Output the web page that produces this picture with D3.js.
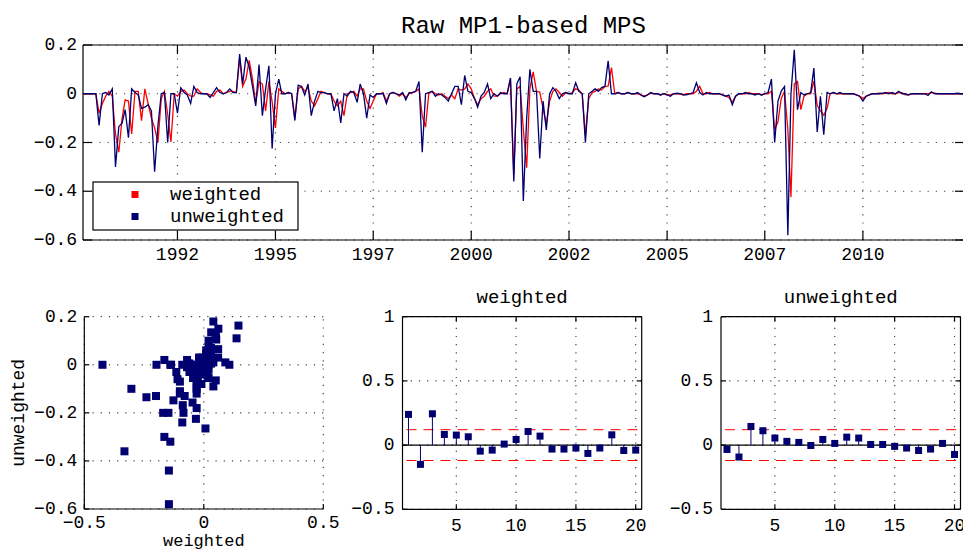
<!DOCTYPE html>
<html>
<head>
<meta charset="utf-8">
<script src="https://cdn.jsdelivr.net/npm/d3@7"></script>
<style>
  body { margin: 0; background: #fff; }
  svg text { font-family: "Liberation Mono", "DejaVu Sans Mono", monospace; fill: #000; }
</style>
</head>
<body>
<div id="chart"></div>
<script>
// Monthly series, Feb 1990 .. Aug 2012 (one row per year)
const weighted = [
  0, 0, 0, 0, 0, -0.08, -0.04, -0.01, 0.01, -0.01, -0.165,
  -0.24, -0.10, -0.025, -0.03, -0.165, 0.01, 0.01, -0.11, 0.02, -0.04, -0.10, -0.14,
  -0.20, -0.02, 0.01, -0.085, -0.198, 0, -0.01, 0.01, 0.015, 0, -0.01, -0.01,
  0.02, 0.005, 0, 0, -0.005, -0.01, 0.01, 0.015, 0, 0.005, 0.01, 0.01,
  0.005, 0.145, 0.03, 0.061, 0.137, 0.06, -0.04, 0.05, 0.04, -0.07, 0.05, -0.033,
  -0.14, 0.02, 0.01, 0, 0.005, 0, -0.10, 0.02, 0.03, 0.01, 0.025, -0.03,
  -0.05, -0.02, 0.01, 0.005, 0, 0, -0.03, -0.05, -0.03, -0.09, 0, 0.005,
  0.01, -0.01, 0.02, 0.02, -0.03, -0.06, -0.03, 0, 0, 0.005, -0.03, 0,
  0.005, 0, -0.01, 0, -0.015, 0, 0.005, 0.01, 0.02, -0.09, -0.137, 0,
  0.01, 0, -0.005, 0, -0.01, -0.02, -0.005, -0.02, 0.02, 0.015, 0.02, 0.04,
  0.02, -0.02, -0.045, -0.02, -0.01, 0.01, 0.02, -0.01, -0.01, 0, 0.005, 0,
  0.06, -0.332, 0.02, 0.03, -0.146, -0.303, 0.02, 0.09, 0.01, 0.007, -0.06, -0.127,
  -0.03, 0.01, 0.02, 0.005, -0.01, 0.005, 0, 0.005, 0.02, 0.015, 0, -0.17,
  -0.02, 0.005, 0.01, 0.02, 0.015, 0.03, 0.031, 0.107, 0, 0.005, 0, 0,
  0.005, 0, 0, 0, -0.005, -0.01, -0.005, 0.002, 0, 0, -0.005, 0,
  -0.005, -0.005, 0, 0, 0, -0.005, 0, 0, 0, 0.01, 0.03, 0,
  0, 0.005, 0, 0, 0, -0.005, -0.01, -0.015, -0.035, -0.01, 0, 0,
  0, 0.005, 0, 0, 0, -0.005, 0, 0, 0.01, -0.148, -0.115, -0.02,
  0.01, -0.146, -0.424, 0.04, 0.05, -0.065, -0.01, 0, 0, 0.052, -0.047, -0.07,
  -0.088, -0.06, 0, 0.005, 0, 0, 0, 0, 0, 0, -0.005, -0.01,
  -0.02, -0.01, -0.005, 0, 0, 0.002, 0, 0.002, 0.005, 0, 0, 0.005,
  0.005, -0.005, -0.005, 0, 0, 0, 0, 0, 0, 0.005, 0.003, 0,
  0, 0, 0, 0, 0, 0, 0, 0
];
const unweighted = [
  0, 0, 0, 0, 0, -0.13, 0, 0.005, -0.005, 0.02, -0.30,
  -0.135, -0.12, -0.065, -0.18, 0.02, 0.005, -0.005, -0.06, -0.055, -0.045, -0.07, -0.32,
  -0.13, 0, 0.005, -0.2, 0, 0, -0.08, 0.025, 0.005, -0.005, -0.04, 0.03,
  0.005, 0, 0, 0, -0.015, 0.005, 0.025, 0.005, 0, 0.005, 0.02, 0.005,
  0.005, 0.163, 0.04, 0.15, 0.11, 0.03, -0.05, 0.12, -0.09, 0.02, 0.115, -0.225,
  0, 0.06, 0, 0, 0.005, 0, -0.11, 0.035, 0.03, -0.005, 0.04, -0.09,
  -0.03, 0.01, 0.005, 0.005, 0, 0, -0.07, -0.02, -0.12, 0, -0.01, 0.01,
  0.005, -0.035, 0.04, 0, -0.10, -0.005, -0.015, 0, 0, 0, -0.04, 0,
  0.005, 0, -0.005, 0.005, -0.025, 0.005, 0.005, 0.01, 0.05, -0.24, 0, 0.005,
  0.01, -0.01, 0, -0.005, -0.015, -0.03, 0, 0.03, 0.03, -0.045, 0.075, 0.01,
  0.005, -0.02, -0.055, -0.01, 0.005, 0.04, -0.02, 0, -0.01, 0.005, 0, 0,
  0.065, -0.36, 0.04, 0.07, -0.44, -0.10, 0.10, 0.01, 0.01, -0.265, -0.03, -0.148,
  0, 0.025, 0.01, -0.02, 0, 0.005, 0, 0, 0.045, 0.01, 0, -0.2,
  0, 0.01, 0.02, 0.01, 0.025, 0.03, 0.135, 0, 0, 0.005, 0, 0,
  0.005, 0, 0, 0.005, -0.005, -0.012, -0.005, 0.005, 0, 0, -0.005, 0,
  -0.005, -0.01, 0, 0.002, 0, -0.005, -0.005, 0, 0.005, 0.045, 0.005, -0.005,
  0.005, 0, 0, 0, 0, -0.005, -0.01, -0.005, -0.045, -0.01, 0, 0,
  0.005, 0, 0, -0.005, 0, -0.005, 0, 0.005, 0.06, -0.2, -0.03, 0.01,
  0.03, -0.58, 0, 0.18, -0.065, 0.005, -0.005, 0, 0.005, 0.105, -0.157, -0.01,
  -0.168, 0.005, 0, 0.005, 0, 0.005, 0, 0, 0, 0, -0.005, -0.01,
  -0.03, -0.01, -0.005, 0, 0, 0, 0.002, 0.005, 0, 0.005, 0, 0.01,
  0, 0, -0.005, 0, 0, 0, 0, 0, -0.007, 0.008, 0, 0,
  0, 0, 0, 0, 0, 0.002, 0, 0
];
const firstMonth = new Date(1990, 1, 1);
const lastMonth = new Date(2012, 7, 1);

// Autocorrelations, lags 1..20
const lags = d3.range(1, 21);
const acfWeighted = [0.239, -0.15, 0.244, 0.083, 0.078, 0.065, -0.047, -0.039, 0.008, 0.044,
  0.106, 0.07, -0.031, -0.031, -0.023, -0.065, -0.023, 0.08, -0.042, -0.039];
const acfUnweighted = [-0.034, -0.093, 0.145, 0.112, 0.055, 0.029, 0.021, -0.003, 0.044, 0.013,
  0.062, 0.055, 0.005, 0.005, -0.01, -0.023, -0.042, -0.031, 0.013, -0.073];
const acfBand = 0.12;

// Tick values
const yearTicks = ["1992-07-01", "1995-01-01", "1997-07-01", "2000-01-01",
  "2002-07-01", "2005-01-01", "2007-07-01", "2010-01-01"];
const mpsTicks = [-0.6, -0.4, -0.2, 0, 0.2];
const scatterXTicks = [-0.5, 0, 0.5];
const scatterYTicks = [-0.6, -0.4, -0.2, 0, 0.2];
const lagTicks = [5, 10, 15, 20];
const acfTicks = [-0.5, 0, 0.5, 1];

const RED = "#ff0000", NAVY = "#000070";
const MINUS = "\u2212";
const fmt = (v) => (v < 0 ? MINUS : "") + Math.abs(v);

const svg = d3.select("#chart").append("svg")
  .attr("width", 963).attr("height", 552)
  .style("background", "#fff");

// Draws dotted grid, frame, inward ticks and tick labels for one panel
function drawFrame(g, x, y, o) {
  const [x0, x1] = x.range();
  const [y0, y1] = y.range();
  const tl = o.tickLen;

  const grid = g.append("g").attr("stroke", "#444").attr("stroke-width", 1.2)
    .attr("stroke-dasharray", "1.2,7");
  grid.selectAll(".gx").data(o.xTicks).join("line")
    .attr("x1", (d) => x(d)).attr("x2", (d) => x(d))
    .attr("y1", y0).attr("y2", y1);
  grid.selectAll(".gy").data(o.yTicks).join("line")
    .attr("x1", x0).attr("x2", x1)
    .attr("y1", (d) => y(d)).attr("y2", (d) => y(d));

  const ax = g.append("g").attr("stroke", "#000").attr("stroke-width", 1.2).attr("fill", "none");
  ax.append("line").attr("x1", x0).attr("x2", x0).attr("y1", y0).attr("y2", y1);
  ax.append("line").attr("x1", x0).attr("x2", x1).attr("y1", y0).attr("y2", y0);
  if (o.box) {
    ax.append("line").attr("x1", x0).attr("x2", x1).attr("y1", y1).attr("y2", y1);
    ax.append("line").attr("x1", x1).attr("x2", x1).attr("y1", y0).attr("y2", y1);
  }
  o.xTicks.forEach((d) => {
    ax.append("line").attr("x1", x(d)).attr("x2", x(d)).attr("y1", y0).attr("y2", y0 - tl);
    if (o.box) ax.append("line").attr("x1", x(d)).attr("x2", x(d)).attr("y1", y1).attr("y2", y1 + tl);
  });
  o.yTicks.forEach((d) => {
    ax.append("line").attr("x1", x0).attr("x2", x0 + tl).attr("y1", y(d)).attr("y2", y(d));
    if (o.box) ax.append("line").attr("x1", x1).attr("x2", x1 - tl).attr("y1", y(d)).attr("y2", y(d));
  });

  g.append("g").selectAll("text").data(o.xTicks).join("text")
    .attr("x", (d) => x(d)).attr("y", y0 + o.xLabelOffset)
    .attr("text-anchor", "middle").attr("font-size", o.fontSize)
    .text(o.xFormat);
  g.append("g").selectAll("text").data(o.yTicks).join("text")
    .attr("x", x0 - o.yLabelOffset).attr("y", (d) => y(d))
    .attr("text-anchor", "end").attr("dominant-baseline", "central")
    .attr("font-size", o.fontSize)
    .text(fmt);
}

// ---- Top: time series ----
const dates = d3.timeMonth.range(firstMonth, d3.timeMonth.offset(lastMonth, 1));
const xTime = d3.scaleTime().domain([firstMonth, lastMonth]).range([83, 964]);
const yMps = d3.scaleLinear().domain([-0.6, 0.2]).range([240, 45]);
const topG = svg.append("g");

svg.append("clipPath").attr("id", "clipTop")
  .append("rect").attr("x", 83).attr("y", 45).attr("width", 881).attr("height", 195);

drawFrame(topG, xTime, yMps, {
  xTicks: yearTicks.map((s) => new Date(s + "T00:00:00")),
  yTicks: mpsTicks,
  box: true, tickLen: 9, fontSize: 18,
  xLabelOffset: 20, yLabelOffset: 6,
  xFormat: d3.timeFormat("%Y"),
});

const line = d3.line().x((d, i) => xTime(dates[i])).y((d) => yMps(d));
const lines = topG.append("g").attr("clip-path", "url(#clipTop)").attr("fill", "none");
lines.append("path").datum(weighted).attr("d", line).attr("stroke", RED).attr("stroke-width", 1.3);
lines.append("path").datum(unweighted).attr("d", line).attr("stroke", NAVY).attr("stroke-width", 1.3);

svg.append("text").attr("x", 523.5).attr("y", 33).attr("text-anchor", "middle")
  .attr("font-size", 24).text("Raw MP1-based MPS");

// legend
const leg = svg.append("g");
leg.append("rect").attr("x", 93).attr("y", 182).attr("width", 205).attr("height", 48)
  .attr("fill", "#fff").attr("stroke", "#000").attr("stroke-width", 1.2);
[["weighted", RED, 194.5], ["unweighted", NAVY, 216.5]].forEach(([label, color, cy]) => {
  leg.append("rect").attr("x", 135 - 3.5).attr("y", cy - 3.5).attr("width", 7).attr("height", 7)
    .attr("fill", color);
  leg.append("text").attr("x", 170).attr("y", cy).attr("dominant-baseline", "central")
    .attr("font-size", 19).text(label);
});

// ---- Bottom left: scatter ----
const xSc = d3.scaleLinear().domain([-0.5, 0.5]).range([84.3, 323.3]);
const ySc = d3.scaleLinear().domain([-0.6, 0.2]).range([509, 316.7]);
const scG = svg.append("g");
drawFrame(scG, xSc, ySc, {
  xTicks: scatterXTicks, yTicks: scatterYTicks,
  box: false, tickLen: 5, fontSize: 18,
  xLabelOffset: 19, yLabelOffset: 7, xFormat: fmt,
});
scG.append("g").selectAll("rect").data(d3.zip(weighted, unweighted)).join("rect")
  .attr("x", (d) => xSc(d[0]) - 4).attr("y", (d) => ySc(d[1]) - 4)
  .attr("width", 8).attr("height", 8).attr("fill", NAVY);
scG.append("text").attr("x", xSc(0)).attr("y", 546).attr("text-anchor", "middle")
  .attr("font-size", 17).text("weighted");
scG.append("text").attr("transform", `translate(24,${(ySc.range()[0] + ySc.range()[1]) / 2}) rotate(-90)`)
  .attr("text-anchor", "middle").attr("font-size", 18).text("unweighted");

// ---- Bottom: autocorrelation panels ----
function acfPanel(values, title, left, right) {
  const x = d3.scaleLinear().domain([0.5, 20.5]).range([left, right]);
  const y = d3.scaleLinear().domain([-0.5, 1]).range([509.3, 316.7]);
  const g = svg.append("g");
  drawFrame(g, x, y, {
    xTicks: lagTicks, yTicks: acfTicks,
    box: true, tickLen: 5, fontSize: 18,
    xLabelOffset: 22, yLabelOffset: 8, xFormat: (d) => d,
  });
  g.append("line").attr("x1", left).attr("x2", right).attr("y1", y(0)).attr("y2", y(0))
    .attr("stroke", "#000").attr("stroke-width", 1.2);
  [acfBand, -acfBand].forEach((b) => {
    g.append("line").attr("x1", left + 4).attr("x2", right - 4).attr("y1", y(b)).attr("y2", y(b))
      .attr("stroke", RED).attr("stroke-width", 1).attr("stroke-dasharray", "10,7");
  });
  const pts = d3.zip(lags, values);
  g.append("g").selectAll("line").data(pts).join("line")
    .attr("x1", (d) => x(d[0])).attr("x2", (d) => x(d[0]))
    .attr("y1", y(0)).attr("y2", (d) => y(d[1]))
    .attr("stroke", NAVY).attr("stroke-width", 1);
  g.append("g").selectAll("rect").data(pts).join("rect")
    .attr("x", (d) => x(d[0]) - 3.5).attr("y", (d) => y(d[1]) - 3.5)
    .attr("width", 7).attr("height", 7).attr("fill", NAVY);
  g.append("text").attr("x", (left + right) / 2).attr("y", 303).attr("text-anchor", "middle")
    .attr("font-size", 19).text(title);
}
acfPanel(acfWeighted, "weighted", 402.5, 641.7);
acfPanel(acfUnweighted, "unweighted", 721, 960.5);
</script>
</body>
</html>
